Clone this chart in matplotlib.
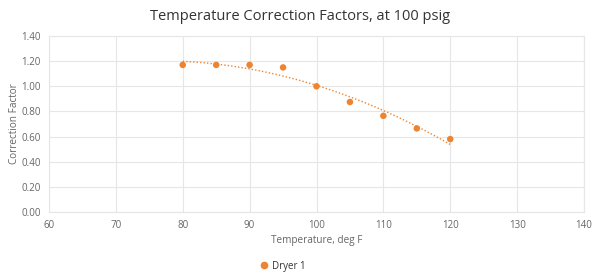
import numpy as np
import matplotlib
matplotlib.use("Agg")
import matplotlib.pyplot as plt
from matplotlib.lines import Line2D

temps = [80, 85, 90, 95, 100, 105, 110, 115, 120]
factors = [1.17, 1.17, 1.17, 1.15, 1.00, 0.875, 0.765, 0.665, 0.58]
series_name = "Dryer 1"
title = "Temperature Correction Factors, at 100 psig"
xticks = [60, 70, 80, 90, 100, 110, 120, 130, 140]
yticks = [0.0, 0.2, 0.4, 0.6, 0.8, 1.0, 1.2, 1.4]

orange = "#ED8432"
grid_c = "#e6e6e6"
text_c = "#666666"

plt.rcParams['font.family'] = ['Open Sans', 'DejaVu Sans']

fig = plt.figure(figsize=(6, 2.78), dpi=100)
ax = fig.add_axes([49/600, 1-212/278, (584-49)/600, (212-36)/278])

# trendline (polynomial, order 2)
coef = np.polyfit(temps, factors, 2)
xs = np.linspace(min(temps), max(temps), 200)
ax.plot(xs, np.polyval(coef, xs), color=orange, lw=1.0, ls=(0, (1, 1.5)), zorder=2)
ax.scatter(temps, factors, s=22, color=orange, zorder=3, edgecolors='none')

ax.set_xlim(60, 140)
ax.set_ylim(0, 1.4)
ax.set_xticks(xticks)
ax.set_yticks(yticks)
ax.set_xticklabels([str(t) for t in xticks])
ax.set_yticklabels([f"{v:.2f}" for v in yticks])
ax.grid(True, color=grid_c, lw=0.8)
ax.set_axisbelow(True)
for s in ax.spines.values():
    s.set_color(grid_c)
    s.set_linewidth(0.8)
ax.tick_params(length=0, labelsize=7, colors=text_c, pad=6)
ax.set_xlabel("Temperature, deg F", fontsize=7.2, color=text_c, labelpad=3)
ax.set_ylabel("Correction Factor", fontsize=7.2, color=text_c, labelpad=1)

fig.text(0.5, 1-16/278, title, ha='center', va='center', fontsize=10.5, color="#333333")

handle = Line2D([], [], marker='o', ls='none', color=orange, markersize=4.5)
fig.legend([handle], [series_name], loc='center', bbox_to_anchor=(0.47, 1-266/278),
           frameon=False, fontsize=7, handletextpad=0.3, handlelength=1.0,
           labelcolor="#333333")

fig.savefig("out.png", dpi=100)
